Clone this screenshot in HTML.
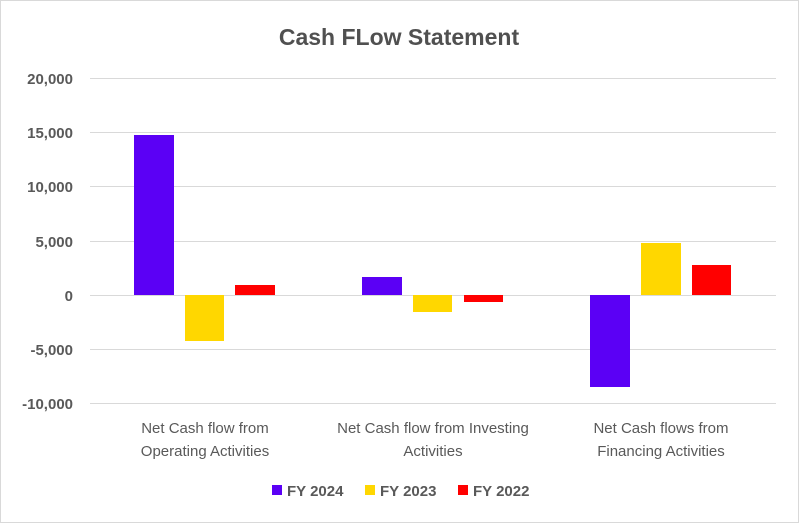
<!DOCTYPE html>
<html><head><meta charset="utf-8"><style>
html,body{margin:0;padding:0;background:#fff}
svg{display:block}
text{font-family:"Liberation Sans",sans-serif;fill:#595959}
</style></head><body>
<svg width="799" height="523" viewBox="0 0 799 523" xmlns="http://www.w3.org/2000/svg">
<rect x="0.5" y="0.5" width="798" height="522" fill="#fff" stroke="#d9d9d9"/>
<text x="399" y="45" text-anchor="middle" font-size="23" font-weight="bold" style="fill:#505050">Cash FLow Statement</text>
<g stroke="#d9d9d9" stroke-width="1">
<line x1="90" x2="776" y1="78.5" y2="78.5"/>
<line x1="90" x2="776" y1="132.5" y2="132.5"/>
<line x1="90" x2="776" y1="186.5" y2="186.5"/>
<line x1="90" x2="776" y1="241.5" y2="241.5"/>
<line x1="90" x2="776" y1="295.5" y2="295.5"/>
<line x1="90" x2="776" y1="349.5" y2="349.5"/>
<line x1="90" x2="776" y1="403.5" y2="403.5"/>
</g>
<g font-size="15" font-weight="bold" text-anchor="end">
<text x="73" y="84">20,000</text>
<text x="73" y="138">15,000</text>
<text x="73" y="192">10,000</text>
<text x="73" y="247">5,000</text>
<text x="73" y="301">0</text>
<text x="73" y="355">-5,000</text>
<text x="73" y="409">-10,000</text>
</g>
<rect x="134" y="135" width="40" height="160" fill="#5b00f5"/>
<rect x="185" y="295" width="39" height="46" fill="#ffd700"/>
<rect x="235" y="285" width="40" height="10" fill="#ff0000"/>
<rect x="362" y="277" width="40" height="18" fill="#5b00f5"/>
<rect x="413" y="295" width="39" height="17" fill="#ffd700"/>
<rect x="464" y="295" width="39" height="7" fill="#ff0000"/>
<rect x="590" y="295" width="40" height="92" fill="#5b00f5"/>
<rect x="641" y="243" width="40" height="52" fill="#ffd700"/>
<rect x="692" y="265" width="39" height="30" fill="#ff0000"/>
<g font-size="15" text-anchor="middle">
<text x="205" y="433">Net Cash flow from</text>
<text x="205" y="456">Operating Activities</text>
<text x="433" y="433">Net Cash flow from Investing</text>
<text x="433" y="456">Activities</text>
<text x="661" y="433">Net Cash flows from</text>
<text x="661" y="456">Financing Activities</text>
</g>
<g font-size="15" font-weight="bold">
<rect x="272" y="485" width="10" height="10" fill="#5b00f5"/>
<text x="287" y="496">FY 2024</text>
<rect x="365" y="485" width="10" height="10" fill="#ffd700"/>
<text x="380" y="496">FY 2023</text>
<rect x="458" y="485" width="10" height="10" fill="#ff0000"/>
<text x="473" y="496">FY 2022</text>
</g>
</svg>
</body></html>
